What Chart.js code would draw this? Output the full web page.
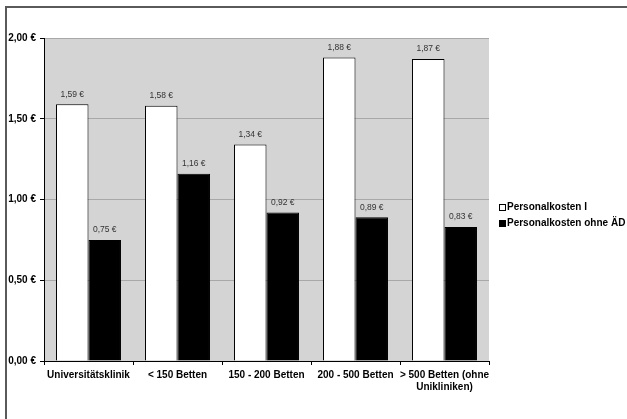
<!DOCTYPE html>
<html>
<head>
<meta charset="utf-8">
<script src="https://cdn.jsdelivr.net/npm/chart.js@4.4.1/dist/chart.umd.min.js"></script>
<style>
  html, body { margin: 0; padding: 0; background: #fff; }
  #wrap { position: relative; width: 627px; height: 419px; overflow: hidden; }
  #frame { position: absolute; left: 5px; top: 6px; width: 700px; height: 500px;
           border-left: 2px solid #5a5a5a; border-top: 2px solid #5a5a5a; }
  canvas { position: absolute; left: 0; top: 0; }
</style>
</head>
<body>
<div id="wrap">
  <div id="frame"></div>
  <canvas id="c" width="627" height="419"></canvas>
</div>
<script>
// Categories (hospital size classes)
const categories = [
  'Universitätsklinik',
  '< 150 Betten',
  '150 - 200 Betten',
  '200 - 500 Betten',
  ['> 500 Betten (ohne', 'Unikliniken)']
];
// Series values in euro
const personalkostenI = [1.59, 1.58, 1.34, 1.88, 1.87];
const personalkostenOhneAD = [0.75, 1.16, 0.92, 0.89, 0.83];
const seriesNames = ['Personalkosten I', 'Personalkosten ohne ÄD'];
// Value axis ticks
const yTickValues = [0, 0.5, 1.0, 1.5, 2.0];

const euro = v => v.toFixed(2).replace('.', ',') + ' €';
const FONT = '"Liberation Sans", Arial, sans-serif';

// Grey plot background
const plotBackground = {
  id: 'plotBackground',
  beforeDraw(chart) {
    const { ctx, chartArea: a } = chart;
    ctx.save();
    ctx.fillStyle = '#d4d4d4';
    ctx.fillRect(a.left, a.top, a.right - a.left, a.bottom - a.top);
    ctx.restore();
  }
};

// Value labels above each bar
const valueLabels = {
  id: 'valueLabels',
  afterDatasetsDraw(chart) {
    const { ctx } = chart;
    ctx.save();
    ctx.font = '8.5px ' + FONT;
    ctx.fillStyle = '#333';
    ctx.textAlign = 'center';
    ctx.textBaseline = 'middle';
    chart.data.datasets.forEach((ds, di) => {
      chart.getDatasetMeta(di).data.forEach((bar, i) => {
        ctx.fillText(euro(ds.data[i]), bar.x, bar.y - 10);
      });
    });
    ctx.restore();
  }
};

// Legend to the right of the plot
const sideLegend = {
  id: 'sideLegend',
  afterDraw(chart) {
    const { ctx, chartArea: a } = chart;
    const x0 = a.right + 10;
    const yMid = (a.top + a.bottom) / 2 + 16;
    ctx.save();
    ctx.font = 'bold 10px ' + FONT;
    ctx.textBaseline = 'middle';
    chart.data.datasets.forEach((ds, i) => {
      const y = yMid + (i - 0.5) * 16;
      ctx.fillStyle = ds.backgroundColor;
      ctx.strokeStyle = '#000';
      ctx.lineWidth = 1;
      ctx.fillRect(x0 + 0.5, y - 3, 6, 6);
      ctx.strokeRect(x0 + 0.5, y - 3, 6, 6);
      ctx.fillStyle = '#000';
      ctx.fillText(ds.label, x0 + 8, y);
    });
    ctx.restore();
  }
};

new Chart(document.getElementById('c'), {
  type: 'bar',
  data: {
    labels: categories,
    datasets: [
      { label: seriesNames[0], data: personalkostenI, backgroundColor: '#ffffff',
        borderColor: '#000', borderWidth: 1, borderSkipped: 'bottom' },
      { label: seriesNames[1], data: personalkostenOhneAD, backgroundColor: '#000000',
        borderColor: '#000', borderWidth: 1, borderSkipped: 'bottom' }
    ]
  },
  options: {
    responsive: false,
    animation: false,
    events: [],
    layout: { padding: { left: 0, top: 38, right: 138, bottom: 0 } },
    plugins: { legend: { display: false }, tooltip: { enabled: false } },
    datasets: { bar: { categoryPercentage: 0.73, barPercentage: 1.0 } },
    scales: {
      x: {
        afterFit(s) { s.height = 58; },
        grid: { display: true, drawOnChartArea: false, drawTicks: true,
                tickLength: 4, tickColor: '#000', offset: true },
        border: { display: true, color: '#000', width: 1 },
        ticks: { color: '#000', font: { family: FONT, size: 10, weight: 'bold', lineHeight: 1.2 },
                 padding: 4, maxRotation: 0, autoSkip: false }
      },
      y: {
        min: 0, max: 2,
        afterFit(s) { s.width = 44; },
        afterBuildTicks(s) { s.ticks = yTickValues.map(v => ({ value: v })); },
        grid: { color: '#a8a8a8', lineWidth: 1, tickColor: '#000', tickLength: 4 },
        border: { display: true, color: '#000', width: 1 },
        ticks: { color: '#000', font: { family: FONT, size: 10, weight: 'bold' },
                 padding: 4, callback: v => euro(v) }
      }
    }
  },
  plugins: [plotBackground, valueLabels, sideLegend]
});
</script>
</body>
</html>
